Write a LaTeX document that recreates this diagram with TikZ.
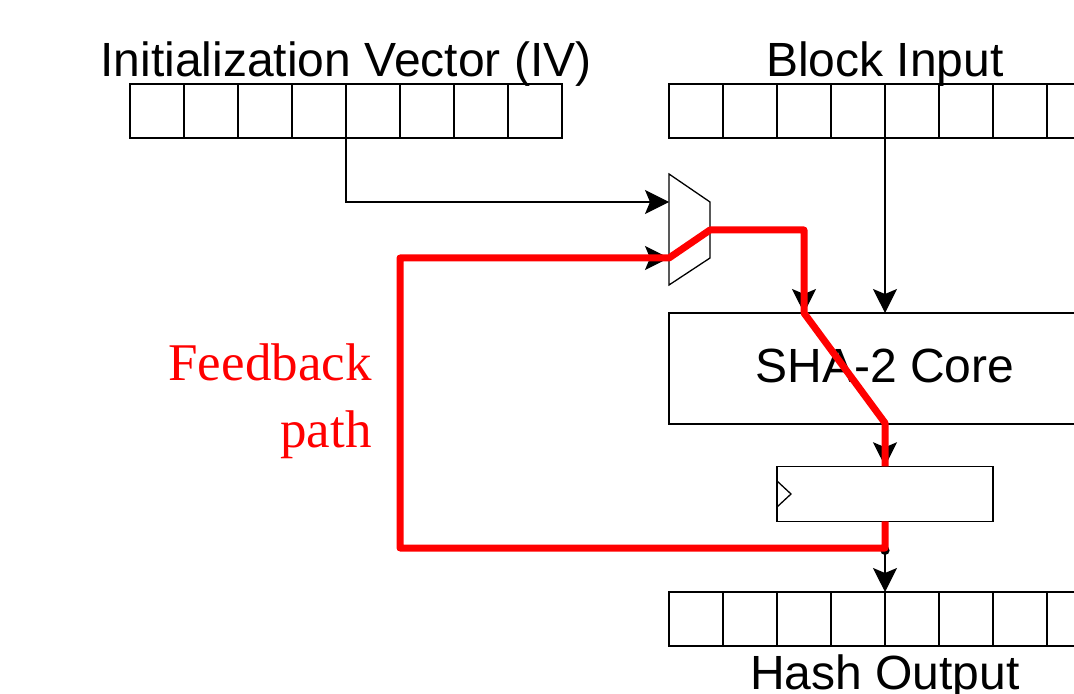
\documentclass[tikz,border=0pt]{standalone}
\usepackage{fontspec}
\setmainfont{Liberation Sans}
\newfontfamily\serifred{Liberation Serif}
\usetikzlibrary{arrows.meta}
\begin{document}
\begin{tikzpicture}[x=0.5pt,y=-0.5pt,
  cell/.style={draw, line width=0.65pt, minimum width=27pt, minimum height=27pt, inner sep=0pt, outer sep=0pt},
  lbl/.style={font=\fontsize{24}{28}\selectfont, inner sep=0pt, anchor=base},
  fblbl/.style={text=red, font=\serifred\fontsize{26.5}{32}\selectfont, inner sep=0pt, anchor=base east},
  wire/.style={line width=0.65pt},
  arr/.style={wire, -{Stealth[length=12pt,width=12pt,inset=2.5pt]}},
  fb/.style={red, line width=3.5pt, line join=round},
  boxnode/.style={draw, line width=0.65pt, inner sep=0pt, outer sep=0pt},
]
\useasboundingbox (0,0) rectangle (1074,694);
\clip (0,0) rectangle (1074,694);
\fill[white] (0,0) rectangle (1074,694);

% labels
\node[lbl] (ivlbl) at (346,77) {Initialization Vector (IV)};
\node[lbl] (bilbl) at (885,77) {Block Input};
\node[lbl] (holbl) at (885,689) {Hash Output};
\node[fblbl] (fb1) at (372,380) {Feedback};
\node[fblbl] (fb2) at (372,447) {path};

% registers of cells
\foreach \i in {0,...,7} {
  \node[cell] (iv\i) at ({157+54*\i},111) {};
  \node[cell] (bi\i) at ({696+54*\i},111) {};
  \node[cell] (ho\i) at ({696+54*\i},619) {};
}

% SHA-2 core
\node[boxnode, minimum width=216pt, minimum height=55.5pt] (core) at (885,368.5) {};
\node[lbl, anchor=center] (corelbl) at (885,366) {SHA-2 Core};

% output register
\node[boxnode, minimum width=108pt, minimum height=27.5pt] (reg) at (885,493.75) {};
\draw[wire] (reg.west |- 0,481) -- (791,494) -- (reg.west |- 0,507);

% multiplexer
\coordinate (mtl) at (669,174);
\coordinate (mtr) at (710,202);
\coordinate (mbr) at (710,258);
\coordinate (mbl) at (669,285);
\coordinate (min1) at (669,202);
\coordinate (min2) at (669,258);
\coordinate (mout) at (710,230);
\draw[wire, line join=miter] (mtl) -- (mtr) -- (mbr) -- (mbl) -- cycle;

% helper coordinates
\coordinate (c1) at (804,313);
\coordinate (c2) at (885,423);
\coordinate (dot) at (885,548);
\coordinate (fbc) at (400,258);

% black connectors
\draw[arr] (iv4.south west) |- (min1);
\draw[arr] (bi4.south west) -- (bi4.south west |- core.north);
\draw[arr] (mout) -| (c1);
\draw[arr] (core.south) -- (reg.north);
\draw[wire] (reg.south) -- (dot);
\draw[arr] (dot) -- (ho4.north west);
\draw[arr] (dot) -| (fbc) -- (min2);
\fill ([yshift=-1.2pt]dot) circle (2.3pt);

% red feedback path
\draw[fb] (reg.south) -- (dot) -| (fbc) -- (min2) -- (mout) -| (c1) -- (c2) -- (reg.north);
\end{tikzpicture}
\end{document}
